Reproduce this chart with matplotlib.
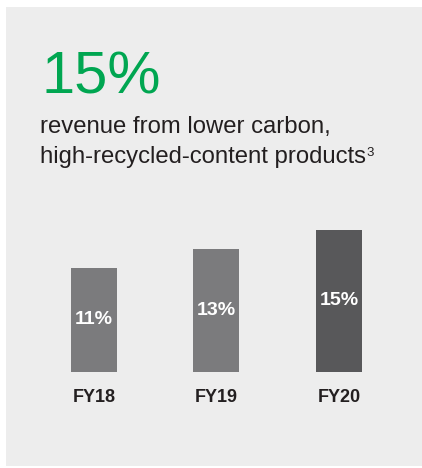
import matplotlib
matplotlib.use('Agg')
import matplotlib.pyplot as plt
from matplotlib.patches import Rectangle

# data
years = ['FY18', 'FY19', 'FY20']
values = [11, 13, 15]
bar_labels = ['11%', '13%', '15%']
headline = '15%'
subtitle = ['revenue from lower carbon,', 'high-recycled-content products']
footnote = '3'

W, H = 422, 468
bg = '#ededed'
green = '#00a651'
dark = '#231f20'
bar_colors = ['#7b7b7d', '#7b7b7d', '#58585a']

plt.rcParams['font.family'] = ['Liberation Sans', 'DejaVu Sans']

fig = plt.figure(figsize=(W / 100, H / 100), dpi=100)
fig.patch.set_facecolor('white')

# grey panel
fig.patches.append(Rectangle((6 / W, 1 - 466 / H), (W - 6) / W, 459 / H,
                             transform=fig.transFigure, facecolor=bg,
                             edgecolor='none', zorder=-5))

def px(x, y):
    return x / W, 1 - y / H

# headline + subtitle
fig.text(*px(41.5, 94), headline, color=green, fontsize=43,
         va='baseline', ha='left')
fig.text(*px(40, 132.5), subtitle[0], color=dark, fontsize=17.2, va='baseline')
t2 = fig.text(*px(40, 163.5), subtitle[1], color=dark, fontsize=17.2, va='baseline')
fig.canvas.draw()
bb = t2.get_window_extent()
fig.text((bb.x1 + 0.5) / W, 1 - 156 / H, footnote, color=dark, fontsize=9.5, va='baseline')

# bars
scale = 9.5          # px per percentage point
step = 122.5         # px between bar centres
base_y = 372
ax_h = 150
ax = fig.add_axes([(94 - step / 2) / W, (H - base_y) / H, 3 * step / W, ax_h / H])
ax.set_zorder(2)
ax.set_xlim(-0.5, 2.5)
ax.set_ylim(0, ax_h / scale)
ax.axis('off')

x = range(len(years))
ax.bar(x, values, width=46 / step, color=bar_colors)
for i, v in enumerate(values):
    ax.text(i, v / 2, bar_labels[i], color='white', fontsize=14, fontweight='bold',
            ha='center', va='center')
    ax.text(i, -25 / scale, years[i], color=dark, fontsize=13, fontweight='bold',
            ha='center', va='center', clip_on=False)

fig.savefig('out.png', dpi=100, facecolor=fig.get_facecolor())
